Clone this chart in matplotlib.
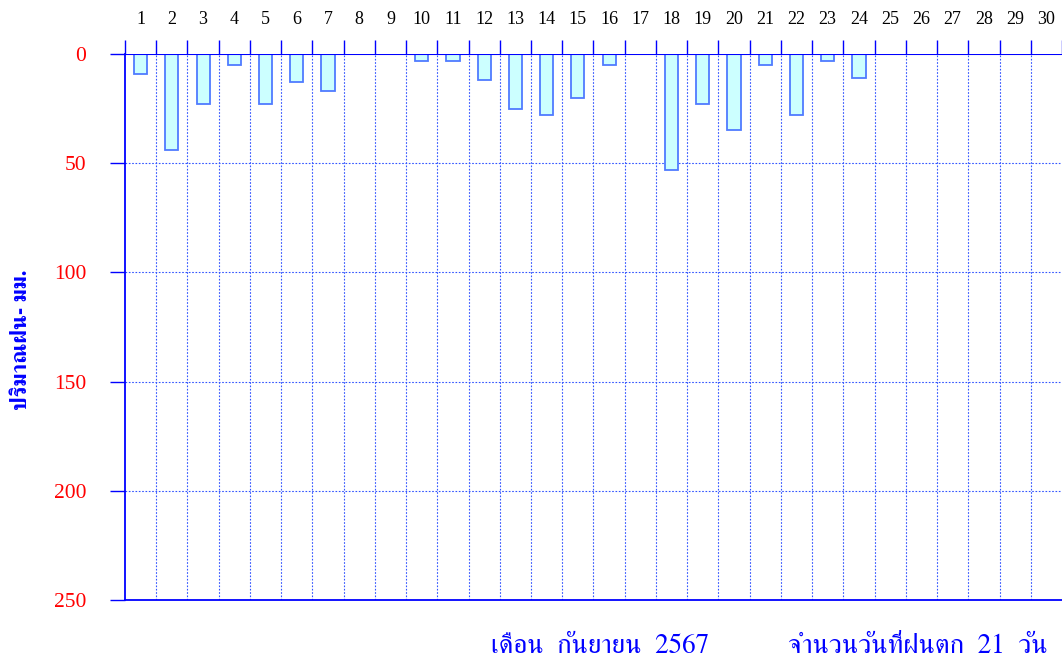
import matplotlib
matplotlib.use("Agg")
import matplotlib.pyplot as plt
import numpy as np

# rainfall, September 2567 (mm per day)
days = list(range(1, 31))
rain = [9, 44, 23, 5, 23, 13, 17, 0, 0, 3,
        3, 12, 25, 28, 20, 5, 0, 53, 23, 35,
        5, 28, 3, 11, 0, 0, 0, 0, 0, 0]
y_ticks = [0, 50, 100, 150, 200, 250]

month_text = "เดือน  กันยายน  2567"
count_text = "จำนวนวันที่ฝนตก  21  วัน"
ylabel_text = "ปริมาณฝน- มม."

thai_family = ["FreeSerif", "Noto Serif Thai", "Liberation Serif", "DejaVu Sans"]

fig = plt.figure(figsize=(10.62, 6.68), dpi=100)
ax = fig.add_axes([0.1177, 0.1018, 0.8823, 0.8174])

ax.bar(days, rain, width=0.42, color="#ccffff", edgecolor="#4f7bff",
       linewidth=1.3, zorder=3)

ax.set_xlim(0.5, 30.5)
ax.set_ylim(250, 0)

# grid lines on day boundaries
for xb in np.arange(1.5, 30.5, 1):
    ax.axvline(xb, color="#3355ff", linestyle=(0, (1.5, 1.5)), linewidth=0.8, zorder=1)
for yv in y_ticks[1:-1]:
    ax.axhline(yv, color="#3355ff", linestyle=(0, (1.5, 1.5)), linewidth=0.8, zorder=1)
ax.axhline(0, color="#0000ff", linewidth=1.5, zorder=4)

ax.xaxis.tick_top()
ax.set_xticks(np.arange(0.5, 31, 1))
ax.set_xticklabels([])
ax.set_xticks(days, minor=True)
ax.set_xticklabels([str(d) for d in days], minor=True,
                   fontfamily="Liberation Serif", fontsize=13, color="black")
ax.tick_params(axis="x", which="major", length=10, color="#0000ff", width=1)
ax.tick_params(axis="x", which="minor", length=0, pad=19)

ax.set_yticks(y_ticks)
ax.set_yticklabels([str(v) for v in y_ticks], fontfamily="Liberation Serif",
                   fontsize=15.5, color="red")
ax.tick_params(axis="y", length=11, color="#0000ff", width=1, pad=17)

for side in ["left", "bottom"]:
    ax.spines[side].set_color("#0000ff")
    ax.spines[side].set_linewidth(1.3)
ax.spines["top"].set_visible(False)
ax.spines["right"].set_visible(False)

fig.text(0.02, 0.491, ylabel_text, rotation=90, ha="center", va="center",
         color="#0000ff", fontsize=16, fontweight="bold", family=thai_family)
fig.text(0.565, 0.033, month_text, ha="center", va="center",
         color="#0000ff", fontsize=19.5, family=thai_family)
fig.text(0.864, 0.033, count_text, ha="center", va="center",
         color="#0000ff", fontsize=19.5, family=thai_family)

fig.savefig("out.png", dpi=100)
